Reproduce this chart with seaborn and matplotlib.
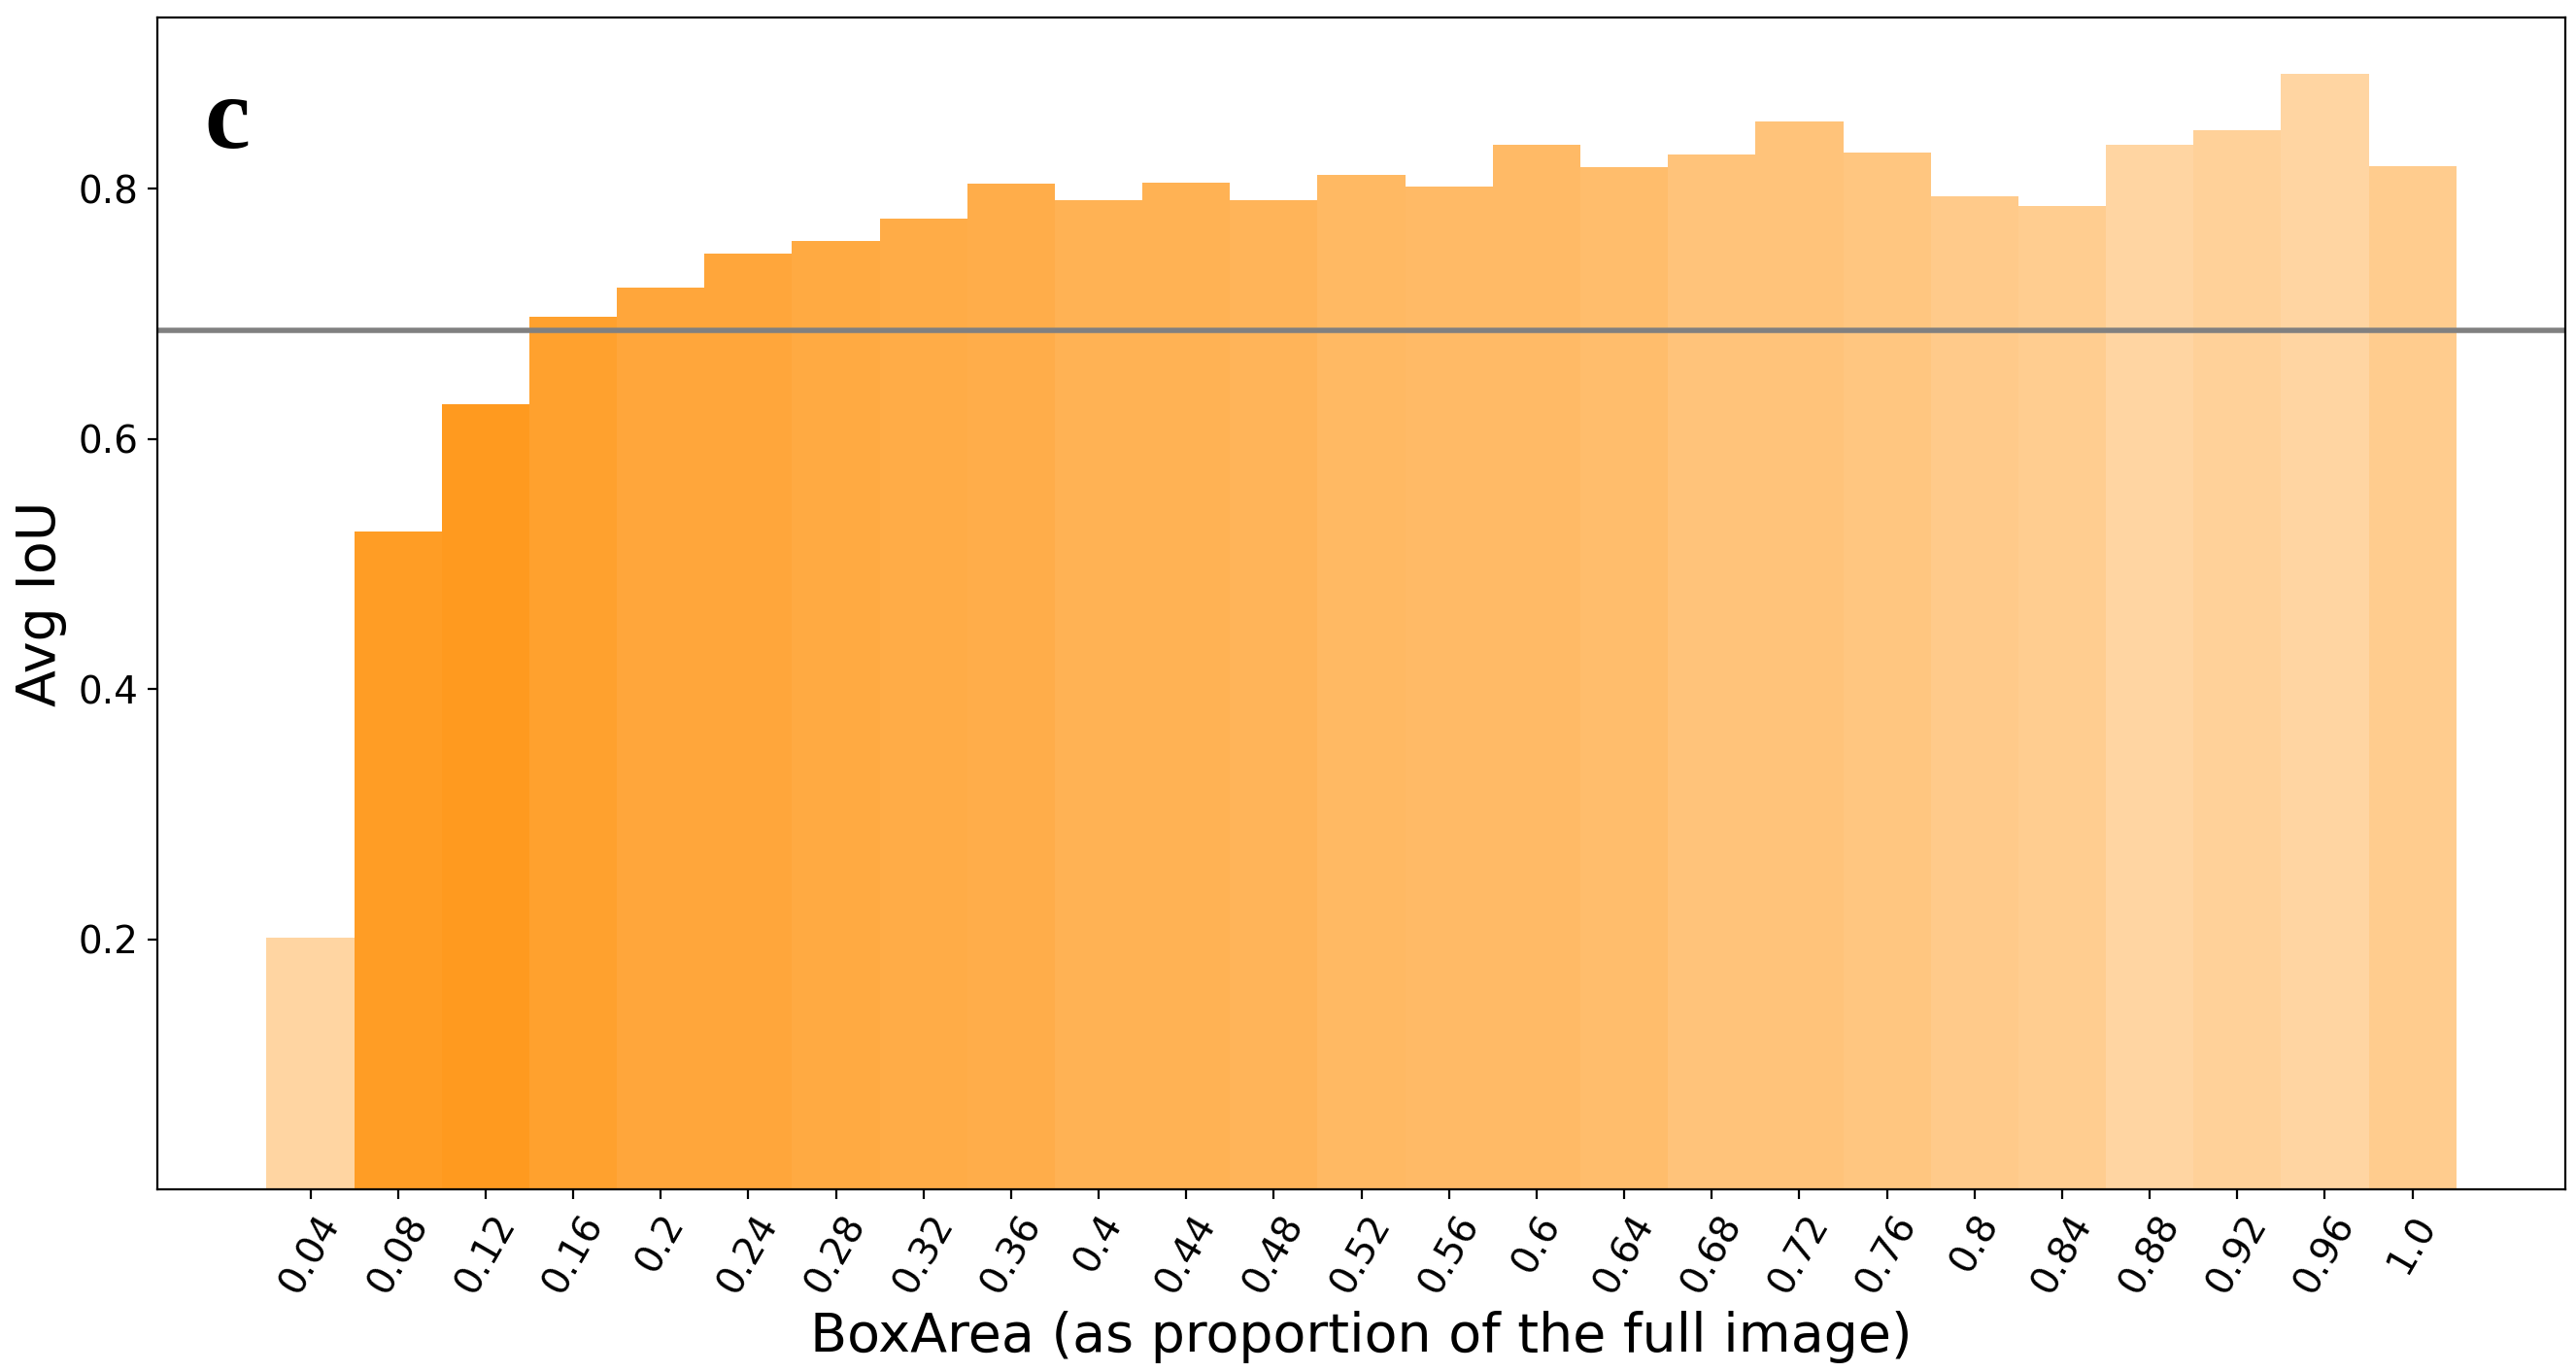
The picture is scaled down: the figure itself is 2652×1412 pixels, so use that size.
# Avg IoU by box area bin (panel c)

import numpy as np
import pandas as pd
import matplotlib
matplotlib.use("Agg")
import matplotlib.pyplot as plt
import matplotlib.colors as mcolors
import seaborn as sns

# ── data ──────────────────────────────────
box_area = ['0.04', '0.08', '0.12', '0.16', '0.2', '0.24', '0.28', '0.32', '0.36',
            '0.4', '0.44', '0.48', '0.52', '0.56', '0.6', '0.64', '0.68', '0.72',
            '0.76', '0.8', '0.84', '0.88', '0.92', '0.96', '1.0']
avg_iou = [0.201, 0.526, 0.628, 0.698, 0.721, 0.748, 0.758, 0.776, 0.804,
           0.791, 0.805, 0.791, 0.811, 0.802, 0.835, 0.817, 0.827, 0.854,
           0.829, 0.794, 0.786, 0.835, 0.847, 0.892, 0.818]
# shading of each bar (share of samples in the bin)
bar_shade = [0.365, 0.855, 0.88, 0.82, 0.77, 0.77, 0.74, 0.72, 0.71,
             0.67, 0.67, 0.65, 0.61, 0.60, 0.60, 0.575, 0.52, 0.52,
             0.50, 0.46, 0.435, 0.365, 0.40, 0.365, 0.445]
overall_mean = 0.687

df = pd.DataFrame({'BoxArea': box_area, 'AvgIoU': avg_iou})

# blend darkorange with white by shade
base = np.array(mcolors.to_rgb('darkorange'))
palette = [tuple(1 - a * (1 - base)) for a in bar_shade]

# ── plot ──────────────────────────────────
sns.set_style('white')
plt.rcParams['font.family'] = ['DejaVu Sans']
plt.rcParams['text.color'] = 'black'
plt.rcParams['axes.labelcolor'] = 'black'
plt.rcParams['xtick.color'] = 'black'
plt.rcParams['ytick.color'] = 'black'

fig, ax = plt.subplots(figsize=(13.26, 7.06), dpi=200)
sns.barplot(data=df, x='BoxArea', y='AvgIoU', hue='BoxArea', palette=palette,
            width=1.0, saturation=1, legend=False, ax=ax, linewidth=0)

ax.axhline(overall_mean, color='grey', linewidth=2)

ax.set_xlim(-1.75, len(box_area) - 1 + 1.75)
ax.set_ylim(0, 0.9366)
ax.set_yticks([0.2, 0.4, 0.6, 0.8])
ax.set_yticklabels(['0.2', '0.4', '0.6', '0.8'])
ax.tick_params(axis='both', which='both', length=3.5, width=0.8, labelsize=14,
               bottom=True, left=True, colors='black')
plt.setp(ax.get_xticklabels(), rotation=60)
for s in ax.spines.values():
    s.set_color('black')
    s.set_linewidth(0.8)

ax.set_xlabel('BoxArea (as proportion of the full image)', fontsize=20)
ax.set_ylabel('Avg IoU', fontsize=20)
ax.text(0.029, 0.91, 'c', transform=ax.transAxes, fontsize=38, fontweight='bold',
        family='Liberation Serif', ha='center', va='center')

fig.subplots_adjust(left=0.061, right=0.996, top=0.987, bottom=0.133)
plt.savefig('out.png', dpi=200)
